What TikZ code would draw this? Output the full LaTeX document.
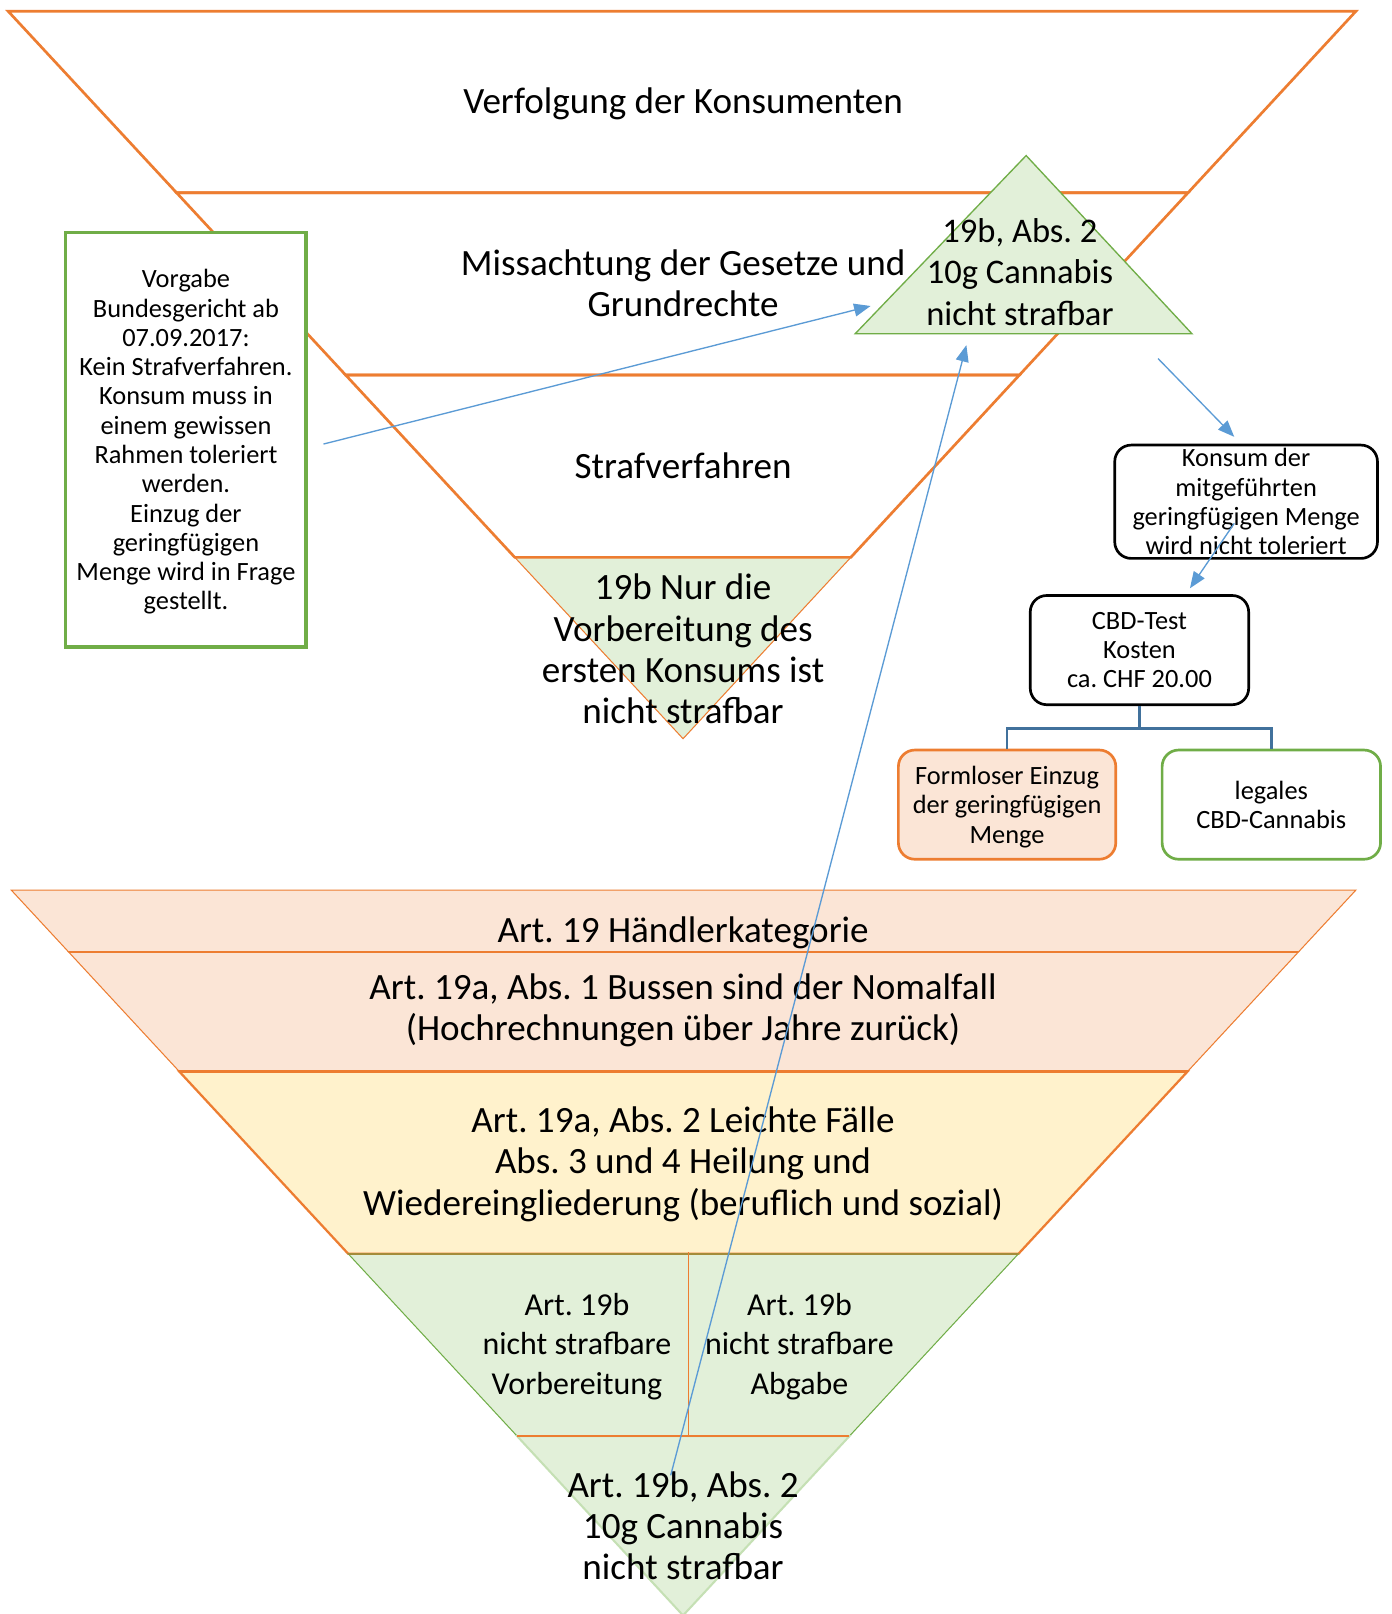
\documentclass[tikz,border=0pt]{standalone}
\usepackage{fontspec}
\setmainfont{Carlito}
\usetikzlibrary{arrows.meta}
\definecolor{ora}{HTML}{ED7D31}
\definecolor{grn}{HTML}{70AD47}
\definecolor{lgreen}{HTML}{E2F0D9}
\definecolor{peach}{HTML}{FBE5D6}
\definecolor{lyellow}{HTML}{FFF2CC}
\definecolor{arrblue}{HTML}{5B9BD5}
\definecolor{steel}{HTML}{41719C}
\definecolor{palegrn}{HTML}{C5E0B4}
\definecolor{olive}{HTML}{A48C3A}
\frenchspacing
\tikzset{
  bigtxt/.style={inner sep=0pt, align=center, font=\fontsize{36pt}{40pt}\selectfont},
  midtxt/.style={inner sep=0pt, align=center, font=\fontsize{33.5pt}{40.5pt}\selectfont},
  bandtxt/.style={inner sep=0pt, align=center, font=\fontsize{31pt}{38pt}\selectfont},
  smalltxt/.style={inner sep=0pt, align=center, font=\fontsize{25.6pt}{28.4pt}\selectfont},
  funnelline/.style={draw=ora, line width=2.6pt, line join=miter},
  roundbox/.style={rounded corners=16pt, line width=2.6pt, inner sep=0pt, align=center,
    font=\fontsize{25.6pt}{28.4pt}\selectfont},
  bluearrow/.style={draw=arrblue, line width=1.3pt, -{Triangle[length=16pt,width=12.5pt]}},
  treeline/.style={draw=steel, line width=2.6pt},
}
\begin{document}
\begin{tikzpicture}[x=1pt,y=-1pt]
\useasboundingbox (0,0) rectangle (1350.2,1566.6);
\fill[white] (0,0) rectangle (1350.2,1566.6);

% ---------- upper funnel ----------
\filldraw[fill=lgreen, draw=ora, line width=1pt] (499.7,541) -- (825.8,541) -- (663,717) -- cycle;
\draw[funnelline] (8,11) -- (1316,11) -- (1153.2,187) -- (171.3,187) -- cycle;
\draw[funnelline] (171.3,187) -- (1153.2,187) -- (989.5,364) -- (335.5,364) -- cycle;
\draw[funnelline] (335.5,364) -- (989.5,364) -- (825.8,541) -- (499.7,541) -- cycle;

% top right green triangle
\filldraw[fill=lgreen, draw=grn, line width=1.3pt] (996,151) -- (1157,324) -- (830,324) -- cycle;

% left green box
\node[draw=grn, fill=white, line width=3pt, minimum width=233pt, minimum height=402pt, inner sep=0pt]
  (vorgabe) at (180.5,427) {};
\node[smalltxt] (vorgabetxt) at (180.5,429) {Vorgabe\\Bundesgericht ab\\07.09.2017:\\Kein Strafverfahren.\\Konsum muss in\\einem gewissen\\Rahmen toleriert\\werden.\\Einzug der\\geringfügigen\\Menge wird in Frage\\gestellt.};

\node[bigtxt] (verfolgung) at (663,101) {Verfolgung der Konsumenten};
\node[bigtxt] (missachtung) at (663,275) {Missachtung der Gesetze und\\Grundrechte};
\node[bigtxt] (strafverfahren) at (663,452) {Strafverfahren};
\node[bigtxt] (nurdie) at (663,630) {19b Nur die\\Vorbereitung des\\ersten Konsums ist\\nicht strafbar};
\node[midtxt] (toptri) at (990,264) {19b, Abs. 2\\10g Cannabis\\nicht strafbar};

% ---------- right boxes ----------
\node[roundbox, draw=black, fill=white, minimum width=255pt, minimum height=110pt] (konsum) at (1209.5,487)
  {Konsum der\\mitgeführten\\geringfügigen Menge\\wird nicht toleriert};
\node[roundbox, draw=black, fill=white, minimum width=212pt, minimum height=106pt] (cbd) at (1106,631)
  {CBD-Test\\Kosten\\ca. CHF 20.00};
\node[roundbox, draw=ora, fill=peach, minimum width=211pt, minimum height=106pt, text depth=0pt] (formlos) at (977.5,781)
  {\raisebox{0pt}{}Formloser Einzug\\der geringfügigen\\Menge};
\node[roundbox, draw=grn, fill=white, minimum width=212pt, minimum height=106pt] (legal) at (1234,781)
  {legales\\CBD-Cannabis};
\draw[treeline] (cbd.south) -- ++(0,22) -| (formlos.north);
\draw[treeline] (cbd.south) -- ++(0,22) -| (legal.north);

% ---------- lower funnel ----------
\filldraw[fill=peach, draw=ora, line width=1pt] (11,864) -- (1316,864) -- (1260.3,924) -- (66.6,924) -- cycle;
\filldraw[fill=peach, draw=ora, line width=1pt] (66.6,924) -- (1260.3,924) -- (1152.7,1040) -- (174,1040) -- cycle;
\draw[ora, line width=2pt] (66.6,924) -- (1260.3,924);
\filldraw[fill=lyellow, draw=ora, line width=2.2pt] (174,1040) -- (1152.7,1040) -- (988.5,1217) -- (338,1217) -- cycle;
\draw[ora, line width=3pt] (174,1040) -- (1152.7,1040);
\filldraw[fill=lgreen, draw=grn, line width=1pt] (338,1217) -- (988.5,1217) -- (824.4,1394) -- (502,1394) -- cycle;
\draw[olive, line width=2.4pt] (338,1217) -- (988.5,1217);
\draw[ora, line width=1pt] (668,1215) -- (668,1394);
\filldraw[fill=lgreen, draw=palegrn, line width=2pt] (502,1394) -- (824.4,1394) -- (663,1568) -- cycle;
\draw[ora, line width=2pt] (502,1394) -- (824.4,1394);

\node[bigtxt] (art19) at (663,905) {Art. 19 Händlerkategorie};
\node[bigtxt] (art19a1) at (663,981) {Art. 19a, Abs. 1 Bussen sind der Nomalfall\\(Hochrechnungen über Jahre zurück)};
\node[bigtxt] (art19a2) at (663,1130) {Art. 19a, Abs. 2 Leichte Fälle\\Abs. 3 und 4 Heilung und\\Wiedereingliederung (beruflich und sozial)};
\node[bandtxt] (vorb) at (560,1307) {Art. 19b\\nicht strafbare\\Vorbereitung};
\node[bandtxt] (abgabe) at (776,1307) {Art. 19b\\nicht strafbare\\Abgabe};
\node[bigtxt] (art19b2) at (663,1481) {Art. 19b, Abs. 2\\10g Cannabis\\nicht strafbar};

% ---------- arrows ----------
\coordinate (a1s) at (314,431);
\coordinate (a1e) at (845,297);
\coordinate (a2s) at (651,1432);
\coordinate (a2e) at (938,335);
\coordinate (a3s) at (1124,348);
\coordinate (a3e) at (1198,424);
\coordinate (a4s) at (1198,508);
\coordinate (a4e) at (1155,571);
\draw[bluearrow] (a1s) -- (a1e);
\draw[bluearrow] (a2s) -- (a2e);
\draw[bluearrow] (a3s) -- (a3e);
\draw[bluearrow] (a4s) -- (a4e);
\end{tikzpicture}
\end{document}
